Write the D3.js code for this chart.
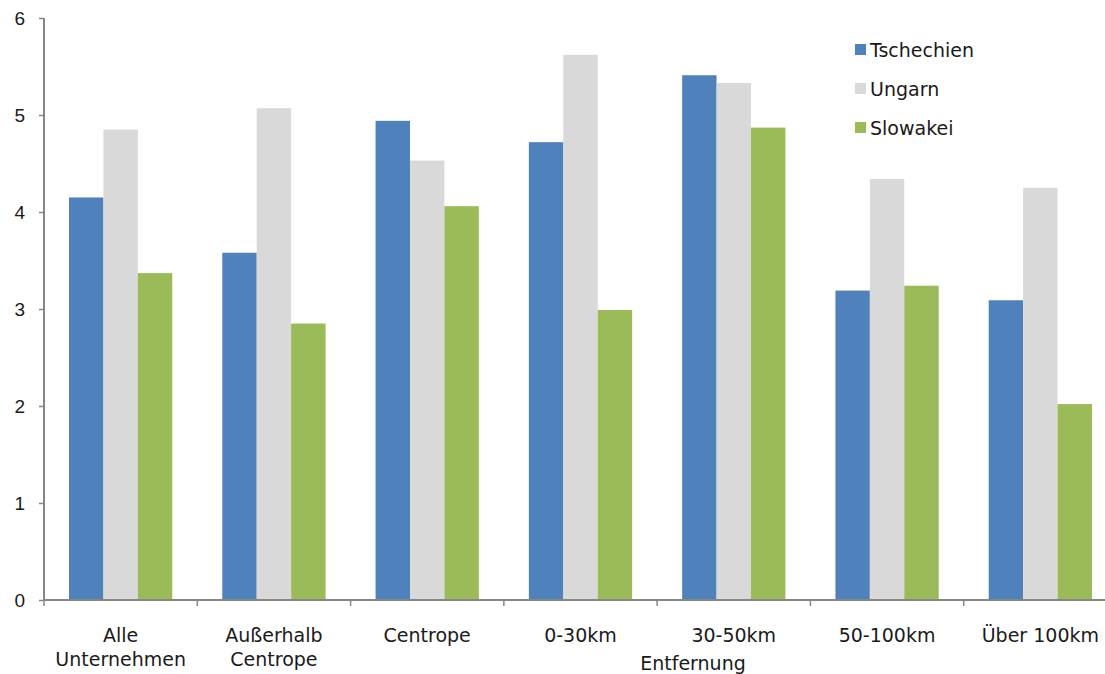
<!DOCTYPE html>
<html>
<head>
<meta charset="utf-8">
<script src="https://cdn.jsdelivr.net/npm/d3@7"></script>
<style>
  html, body { margin: 0; padding: 0; background: #fff; }
  svg { display: block; font-family: "Century Gothic", "DejaVu Sans", sans-serif; }
</style>
</head>
<body>
<svg id="chart" width="1105" height="674"></svg>
<script>
// Categories (distance groups) and the three country series
const categories = [
  ["Alle", "Unternehmen"],
  ["Außerhalb", "Centrope"],
  ["Centrope"],
  ["0-30km"],
  ["30-50km"],
  ["50-100km"],
  ["Über 100km"]
];
const seriesNames = ["Tschechien", "Ungarn", "Slowakei"];
const tschechien = [4.15, 3.58, 4.94, 4.72, 5.41, 3.19, 3.09];
const ungarn     = [4.85, 5.07, 4.53, 5.62, 5.33, 4.34, 4.25];
const slowakei   = [3.37, 2.85, 4.06, 2.99, 4.87, 3.24, 2.02];
const yTicks = [0, 1, 2, 3, 4, 5, 6];
const axisTitle = "Entfernung";

const colors = ["#4F81BD", "#D9D9D9", "#9BBB59"];
const seriesValues = [tschechien, ungarn, slowakei];
const fontSize = 19;
const textColor = "#1a1a1a";

const svg = d3.select("#chart");
const plotLeft = 44, plotRight = 1117, plotTop = 18, plotBottom = 600;

const x0 = d3.scaleBand().domain(d3.range(categories.length)).range([plotLeft, plotRight]);
// bars sit in the middle of each group with a gap on either side
const groupGap = 25;
const x1 = d3.scaleBand().domain(d3.range(seriesNames.length)).range([groupGap, x0.bandwidth() - groupGap]);
const y = d3.scaleLinear().domain([0, 6]).range([plotBottom, plotTop]);

// bars
const groups = svg.append("g").selectAll("g")
  .data(categories)
  .join("g")
  .attr("transform", (d, i) => `translate(${x0(i)},0)`);

groups.selectAll("rect")
  .data((d, i) => seriesValues.map((s, k) => ({ k, v: s[i] })))
  .join("rect")
  .attr("x", d => x1(d.k))
  .attr("width", x1.bandwidth())
  .attr("y", d => y(d.v))
  .attr("height", d => y(0) - y(d.v))
  .attr("fill", d => colors[d.k]);

// y axis
const yAxis = svg.append("g")
  .attr("transform", `translate(${plotLeft},0)`)
  .call(d3.axisLeft(y).tickValues(yTicks).tickSize(5).tickFormat(d3.format("d")));
yAxis.select(".domain").attr("stroke", "#868686").attr("stroke-width", 2).attr("d", `M0,${plotTop}V${plotBottom}`);
yAxis.selectAll(".tick line").attr("stroke", "#868686").attr("stroke-width", 1.5);
yAxis.selectAll(".tick text").attr("x", -19).attr("dy", "0.36em")
  .attr("font-size", fontSize).attr("fill", textColor).attr("font-family", "inherit");

// x axis with ticks on group boundaries
const xAxis = svg.append("g");
xAxis.append("line")
  .attr("x1", plotLeft - 1).attr("x2", plotRight)
  .attr("y1", plotBottom).attr("y2", plotBottom)
  .attr("stroke", "#868686").attr("stroke-width", 2);
xAxis.selectAll("line.tk")
  .data(d3.range(categories.length + 1))
  .join("line")
  .attr("class", "tk")
  .attr("x1", i => plotLeft + i * x0.step()).attr("x2", i => plotLeft + i * x0.step())
  .attr("y1", plotBottom).attr("y2", plotBottom + 6)
  .attr("stroke", "#868686").attr("stroke-width", 1.5);

xAxis.selectAll("text.cat")
  .data(categories)
  .join("text")
  .attr("class", "cat")
  .attr("x", (d, i) => x0(i) + x0.bandwidth() / 2)
  .attr("y", 642)
  .attr("text-anchor", "middle")
  .attr("font-size", fontSize)
  .attr("fill", textColor)
  .selectAll("tspan")
  .data(d => d)
  .join("tspan")
  .attr("x", function () { return this.parentNode.getAttribute("x"); })
  .attr("dy", (d, j) => j === 0 ? 0 : 24)
  .text(d => d);

svg.append("text")
  .attr("x", 693).attr("y", 670)
  .attr("text-anchor", "middle")
  .attr("font-size", fontSize).attr("fill", textColor)
  .text(axisTitle);

// legend
const legend = svg.append("g").selectAll("g")
  .data(seriesNames)
  .join("g")
  .attr("transform", (d, i) => `translate(855,${50 + i * 39})`);
legend.append("rect")
  .attr("x", 0).attr("y", -6).attr("width", 11).attr("height", 11)
  .attr("fill", (d, i) => colors[i]);
legend.append("text")
  .attr("x", 15).attr("y", 0).attr("dy", "0.35em")
  .attr("font-size", fontSize).attr("fill", textColor)
  .text(d => d);
</script>
</body>
</html>
